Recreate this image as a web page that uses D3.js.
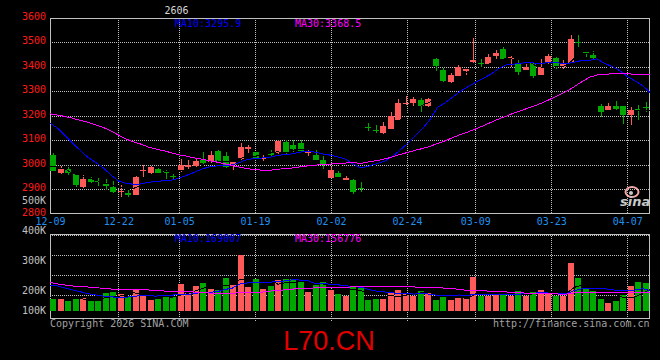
<!DOCTYPE html>
<html><head><meta charset="utf-8">
<script src="https://cdn.jsdelivr.net/npm/d3@7"></script>
<style>
html,body{margin:0;padding:0;background:#000;}
svg{display:block;}
text{font-family:"DejaVu Sans Mono",monospace;font-size:10px;}
</style></head><body>
<svg id="chart" width="660" height="360"></svg>
<script>
// ---------------- DATA ----------------
const contract = "2606";
const dates = ["12-09","12-10","12-11","12-12","12-15","12-16","12-17","12-18","12-19","12-22","12-23","12-24","12-25","12-26","12-29","12-30","12-31",
"01-05","01-06","01-07","01-08","01-09","01-12","01-13","01-14","01-15","01-16","01-19","01-20","01-21","01-22","01-23","01-26","01-27","01-28","01-29","01-30",
"02-02","02-03","02-04","02-05","02-06","02-09","02-10","02-11","02-12","02-13","02-24","02-25","02-26","02-27",
"03-02","03-03","03-04","03-05","03-06","03-09","03-10","03-11","03-12","03-13","03-16","03-17","03-18","03-19","03-20","03-23","03-24","03-25","03-26","03-27","03-30","03-31",
"04-01","04-02","04-03","04-07","04-08","04-09","04-10"];
const open  = [3041,2967,2984,2963,2908,2942,2935,2920,2909,2890,2886,2878,2974,2967,2984,2976,2955,2974,2991,2997,3020,3011,3058,3034,3000,3023,3064,3052,3026,3050,3048,3095,3081,3091,3052,3041,3020,2948,2967,2940,2939,2906,3153,3141,3129,3147,3183,3250,3254,3265,3238,3432,3387,3337,3364,3384,3419,3415,3412,3443,3473,3433,3414,3387,3414,3367,3414,3436,3401,3417,3503,3460,3450,3238,3224,3240,3238,3204,3226,3236];
const high  = [3050,2997,2993,2964,2958,2952,2948,2941,2932,2917,2897,2953,3000,2995,2985,2977,2963,3024,3018,3027,3054,3058,3060,3054,3017,3090,3080,3054,3043,3061,3100,3102,3100,3102,3065,3060,3035,2990,2975,2955,2943,2930,3171,3163,3174,3215,3268,3280,3278,3274,3273,3434,3396,3376,3409,3393,3517,3432,3452,3469,3482,3443,3427,3413,3420,3431,3451,3438,3428,3530,3530,3462,3465,3249,3251,3261,3240,3234,3244,3255];
const low   = [2973,2963,2957,2908,2906,2925,2914,2898,2884,2868,2868,2876,2952,2964,2965,2942,2939,2972,2982,2993,3004,3009,3013,2986,2980,3020,3050,3024,3016,3034,3046,3046,3054,3052,3034,3018,2983,2946,2950,2938,2882,2891,3136,3129,3126,3145,3181,3244,3240,3217,3236,3384,3340,3334,3362,3367,3416,3396,3410,3432,3430,3398,3367,3385,3356,3365,3412,3390,3392,3414,3482,3439,3428,3197,3222,3222,3167,3163,3181,3217];
const close = [2976,2984,2967,2919,2943,2928,2931,2914,2887,2892,2875,2951,2977,2992,2968,2968,2949,3000,3000,3014,3007,3041,3016,2993,3010,3071,3072,3027,3028,3041,3098,3048,3066,3058,3054,3020,3000,2977,2952,2948,2891,2904,3151,3139,3159,3200,3253,3253,3268,3238,3268,3405,3342,3367,3398,3391,3428,3413,3439,3456,3432,3441,3380,3401,3364,3398,3444,3401,3414,3513,3500,3452,3436,3217,3242,3227,3204,3224,3223,3233];
const ma5 = [2995,2990,2982,2965,2957.8,2948.2,2937.6,2927.0,2920.6,2910.4,2899.8,2903.8,2916.4,2937.4,2952.6,2971.2,2970.8,2975.4,2977.0,2986.2,2994.0,3012.4,3015.6,3014.2,3013.4,3026.2,3032.4,3034.6,3041.6,3047.8,3053.2,3048.4,3056.2,3062.2,3064.8,3049.2,3039.6,3021.8,3000.6,2979.4,2953.6,2934.4,2969.2,3006.6,3048.8,3110.6,3180.4,3200.8,3226.6,3242.4,3256.0,3286.4,3304.2,3324.0,3356.0,3380.6,3385.2,3399.4,3413.8,3425.4,3433.6,3436.2,3429.6,3422.0,3403.6,3396.8,3397.4,3401.6,3404.2,3434.0,3454.4,3456.0,3463.0,3423.6,3369.4,3314.8,3265.2,3222.8,3224.0,3222.2];
const ma10 = [3170,3149,3118,3088,3058,3030,3010,2988,2959,2934.1,2924.0,2920.7,2921.7,2929.0,2931.5,2935.5,2937.3,2945.9,2957.2,2969.4,2982.6,2991.6,2995.5,2995.6,2999.8,3010.1,3022.4,3025.1,3027.9,3030.6,3039.7,3040.4,3045.4,3051.9,3056.3,3051.2,3044.0,3039.0,3031.4,3022.1,3001.4,2987.0,2995.5,3003.6,3014.1,3032.1,3057.4,3085.0,3116.6,3145.6,3183.3,3233.4,3252.5,3275.3,3299.2,3318.3,3335.8,3351.8,3368.9,3390.7,3407.1,3410.7,3414.5,3417.9,3414.5,3415.2,3416.8,3415.6,3413.1,3418.8,3425.6,3426.7,3432.3,3413.9,3401.7,3384.6,3360.6,3342.9,3323.8,3295.9];
const ma30 = [3208,3203,3197,3190,3181,3174,3163,3153,3138,3122,3105,3094,3084,3072,3064,3057,3049,3041,3035,3028,3023,3017,3011,3004,2997,2990,2984,2980,2978,2978.0,2982.1,2984.2,2987.5,2992.2,2995.9,2998.9,3001.2,3003.3,3005.5,3007.4,3007.9,3006.3,3012.1,3017.0,3023.4,3031.1,3041.3,3049.7,3058.6,3066.1,3074.8,3086.9,3097.8,3110.3,3123.2,3133.9,3145.7,3158.6,3172.3,3186.1,3197.3,3210.4,3220.8,3232.3,3242.6,3255.2,3270.0,3284.1,3299.5,3318.4,3338.7,3356.9,3366.4,3369.0,3371.8,3372.7,3371.1,3370.1,3368.6,3368.5];
// volume in thousands
const volume = [99.4,99.4,82.8,110.1,110.1,82.8,82.8,149.0,157.3,140.8,118.4,182.2,132.5,91.1,101.8,115.9,115.9,223.6,151.5,207.0,231.8,182.2,173.9,275.7,215.3,463.7,201.2,262.5,182.2,207.0,256.7,265.0,265.0,242.6,157.3,215.3,237.6,173.9,140.8,126.7,207.0,188.0,91.1,99.4,99.4,146.6,173.9,146.6,126.7,165.6,154.8,91.1,118.4,91.1,110.1,105.2,284.0,126.7,126.7,132.5,140.8,126.7,165.6,126.7,157.3,173.9,146.6,126.7,126.7,399.9,275.7,182.2,165.6,99.4,63.8,82.8,132.5,207.0,240.1,231.8];
const volMa5 = [115.9,107.6,99.4,99.4,100.4,97.0,93.7,107.0,116.4,122.5,129.7,149.5,146.2,133.0,125.2,124.7,111.4,129.7,141.8,162.8,186.0,199.2,189.3,214.1,215.8,262.1,266.0,283.7,265.0,263.3,221.9,234.7,235.2,247.2,237.3,229.0,223.6,205.3,185.0,178.8,177.2,167.3,150.7,142.4,137.0,124.9,122.0,133.1,138.6,151.9,153.5,137.0,131.3,124.2,113.1,103.2,141.8,143.4,150.5,155.0,162.1,130.7,138.4,138.4,143.4,150.0,154.0,146.2,146.2,194.7,215.1,222.2,230.0,224.6,157.3,118.7,108.8,117.1,145.2,178.8];
const volMa10 = [215.3,207.0,190.4,173.9,159.8,143.2,132.5,124.2,118.4,111.4,113.4,121.6,126.6,124.7,123.9,127.2,130.5,137.9,137.4,144.0,155.3,155.3,159.5,177.9,189.3,224.1,232.6,236.5,239.5,239.5,242.0,250.3,259.4,256.1,250.3,225.5,229.1,220.2,216.1,208.1,203.1,195.4,178.0,163.7,157.9,151.0,144.7,141.9,140.5,144.4,139.2,129.5,132.2,131.4,132.5,128.3,139.4,137.4,137.4,134.1,132.6,136.2,140.9,144.5,149.2,156.1,142.3,142.3,142.3,169.1,182.6,188.1,188.1,185.4,176.0,166.9,165.5,173.5,184.9,169.0];
const volMa30 = [237.6,223.6,215.3,207.0,201.2,198.7,192.9,188.0,182.2,179.7,179.7,179.7,176.4,173.9,168.1,165.6,165.6,159.8,159.8,157.3,151.5,149.0,146.6,146.6,146.6,151.5,154.8,154.8,157.3,165.0,170.2,175.8,181.8,186.2,187.8,192.3,197.4,198.2,197.6,197.2,200.1,200.4,199.0,199.2,199.1,200.2,202.1,199.5,198.7,197.3,194.7,191.8,189.9,183.7,180.3,168.2,171.1,166.5,164.7,162.2,158.3,153.7,150.4,146.6,146.6,145.1,142.1,140.5,140.1,149.2,151.4,151.3,153.8,153.8,152.6,150.4,149.0,151.1,154.8,156.8];
const priceTicks = [3600,3500,3400,3300,3200,3100,3000,2900,2800];
const volTicks = [500,400,300,200,100];
const dateTicks = ["12-09","12-22","01-05","01-19","02-02","02-24","03-09","03-23","04-07"];
const priceMaText = [["MA10:","3295.9"],["MA30:","3368.5"]];
const volMaText = [["MA10:","169007"],["MA30:","156776"]];

// ---------------- CHART ----------------
const svg = d3.select("#chart");
svg.append("rect").attr("width",660).attr("height",360).attr("fill","#000");

const L = 50, R = 650;
const P_TOP = 17.8, P_BOT = 213.8;
const V_BASE = 311, V_TOP = 234;
const RED = "#ff5a5a", GREEN = "#00a800", FRAME = "#c0c0c0";

const xBand = d3.scaleBand().domain(dates).range([L, R]);
const xPt = d3.scalePoint().domain(dates).range([L, R]);
const yP = d3.scaleLinear().domain([2800, 3600]).range([P_BOT, P_TOP]);
const yV = d3.scaleLinear().domain([0, 637.6]).range([V_BASE, V_TOP]);
const yVLab = d3.scaleLinear().domain([100, 500]).range([320.5, 200.5]);

const data = dates.map((d,i)=>({d, o:open[i], h:high[i], l:low[i], c:close[i], v:volume[i]}));
const col = d => d.c >= d.o ? RED : GREEN;

// grid
const grid = svg.append("g").attr("stroke", FRAME).attr("stroke-dasharray","1,1").attr("shape-rendering","crispEdges");
grid.selectAll(".hp").data(priceTicks.slice(1,-1)).join("line")
  .attr("x1",L).attr("x2",R).attr("y1",t=>Math.round(yP(t))+0.5).attr("y2",t=>Math.round(yP(t))+0.5);
grid.selectAll(".vp").data(dateTicks.slice(1)).join("line")
  .attr("x1",d=>Math.round(xPt(d))+0.5).attr("x2",d=>Math.round(xPt(d))+0.5)
  .attr("y1",18).attr("y2",213);
grid.selectAll(".vv").data(dateTicks.slice(1)).join("line")
  .attr("x1",d=>Math.round(xPt(d))+0.5).attr("x2",d=>Math.round(xPt(d))+0.5)
  .attr("y1",234).attr("y2",321);
const vGrid = d3.scaleLinear().domain([0,4]).range([235.5, 316]);
grid.selectAll(".hv").data([0,1,2,3]).join("line")
  .attr("x1",L).attr("x2",R).attr("y1",k=>Math.floor(vGrid(k))+0.5).attr("y2",k=>Math.floor(vGrid(k))+0.5);

// frames
svg.append("rect").attr("x",50.5).attr("y",18.5).attr("width",599).attr("height",195)
  .attr("fill","none").attr("stroke",FRAME).attr("shape-rendering","crispEdges");
svg.append("rect").attr("x",50.5).attr("y",234.5).attr("width",599).attr("height",84)
  .attr("fill","none").attr("stroke",FRAME).attr("shape-rendering","crispEdges");

// candles
const cg = svg.append("g").attr("shape-rendering","crispEdges");
cg.selectAll(".wick").data(data).join("rect")
  .attr("x", d=>Math.round(xBand(d.d))+3).attr("width",1)
  .attr("y", d=>Math.round(yP(d.h))).attr("height", d=>Math.max(1, Math.round(yP(d.l))-Math.round(yP(d.h))))
  .attr("fill", col);
cg.selectAll(".body").data(data).join("rect")
  .attr("x", d=>Math.round(xBand(d.d))).attr("width",6)
  .attr("y", d=>Math.round(yP(Math.max(d.o,d.c))))
  .attr("height", d=>Math.max(1, Math.round(yP(Math.min(d.o,d.c)))-Math.round(yP(Math.max(d.o,d.c)))))
  .attr("fill", col);

// volume bars
cg.selectAll(".vol").data(data).join("rect")
  .attr("x", d=>Math.round(xBand(d.d))).attr("width",6)
  .attr("y", d=>Math.round(yV(d.v))).attr("height", d=>V_BASE-Math.round(yV(d.v)))
  .attr("fill", col);

// MA lines
function maLine(arr, y, color){
  const line = d3.line().x((v,i)=>xPt(dates[i])).y(v=>y(v));
  svg.append("path").attr("d", line(arr)).attr("fill","none").attr("stroke",color)
    .attr("stroke-width",1).attr("shape-rendering","crispEdges");
}
maLine(ma5, yP, "#000000");
maLine(ma10, yP, "#0000ff");
maLine(ma30, yP, "#ff00ff");
maLine(volMa5, yV, "#000000");
maLine(volMa10, yV, "#0000ff");
maLine(volMa30, yV, "#ff00ff");

// price axis labels (left)
const ax = svg.append("g").attr("transform",`translate(${L},0)`)
  .call(d3.axisLeft(yP).tickValues(priceTicks).tickSize(0).tickPadding(4).tickFormat(d3.format("d")));
ax.select(".domain").remove();
ax.selectAll("text").attr("fill","#ff1a1a").attr("dy","1.4").attr("font-size",10)
  .attr("font-family","DejaVu Sans Mono");

// volume labels
svg.append("g").selectAll("text").data(volTicks).join("text")
  .attr("x",46).attr("y",v=>Math.min(yVLab(v),310.5)+3.6).attr("text-anchor","end")
  .attr("fill","#c0c0c0").text(v=>v+"K");

// date axis
const dx = svg.append("g").attr("transform",`translate(0,${P_BOT})`)
  .call(d3.axisBottom(xPt).tickValues(dateTicks).tickSize(0).tickPadding(4.5));
dx.select(".domain").remove();
dx.selectAll("text").attr("fill","#2090f0").attr("font-size",10).attr("font-family","DejaVu Sans Mono");

// titles
svg.append("text").attr("x",176.5).attr("y",13.5).attr("text-anchor","middle").attr("fill","#d8d8d8").text(contract);
const maColors = ["#0000ff","#ff00ff"], maX = [175, 295];
priceMaText.forEach((t,i)=>svg.append("text").attr("x",maX[i]).attr("y",27).attr("fill",maColors[i]).text(t[0]+t[1]));
volMaText.forEach((t,i)=>svg.append("text").attr("x",maX[i]).attr("y",242).attr("fill",maColors[i]).text(t[0]+t[1]));

// footer
svg.append("text").attr("x",50).attr("y",327).attr("fill","#a0a0a0").text("Copyright 2026 SINA.COM");
svg.append("text").attr("x",649.5).attr("y",327).attr("text-anchor","end").attr("fill","#a0a0a0").text("http://finance.sina.com.cn");
svg.append("text").attr("x",329).attr("y",350).attr("text-anchor","middle").attr("fill","#e00000")
  .style("font-family","'Liberation Sans',Arial,sans-serif").style("font-size","27px").text("L70.CN");

// sina watermark
const wm = svg.append("g");
wm.append("ellipse").attr("cx",632).attr("cy",192).attr("rx",6.5).attr("ry",5)
  .attr("fill","none").attr("stroke","#f0a8a8").attr("stroke-width",2);
wm.append("circle").attr("cx",631).attr("cy",193).attr("r",2).attr("fill","#c8c8c8");
wm.append("text").attr("x",620).attr("y",206).attr("fill","#c8c8c8")
  .style("font-family","'DejaVu Sans',sans-serif").style("font-size","13px").style("font-style","italic").style("font-weight","bold")
  .text("sina");
</script>
</body></html>
